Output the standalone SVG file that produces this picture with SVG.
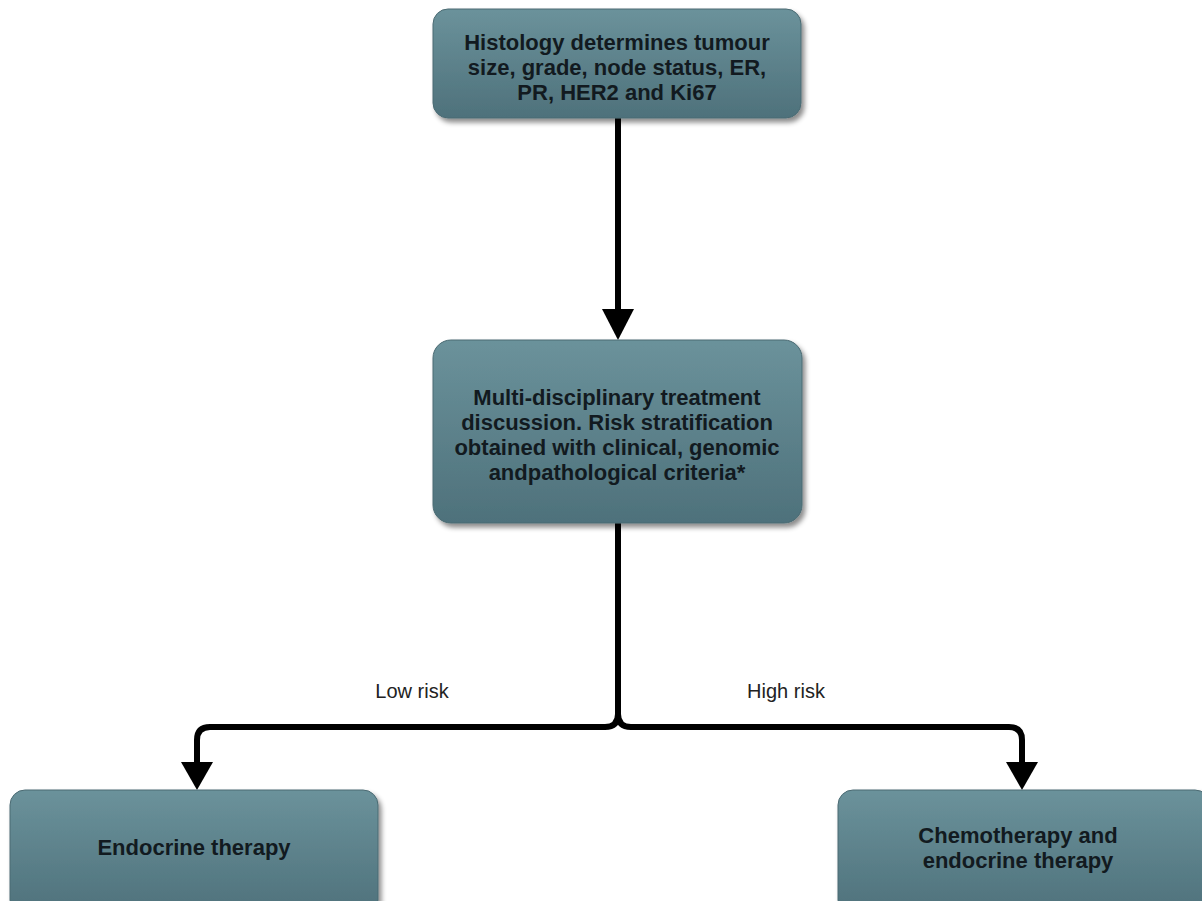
<svg xmlns="http://www.w3.org/2000/svg" width="1202" height="901" viewBox="0 0 1202 901">
  <defs>
    <linearGradient id="fill" x1="0" y1="0" x2="0" y2="1">
      <stop offset="0" stop-color="#6b929b"/>
      <stop offset="1" stop-color="#4e717b"/>
    </linearGradient>
    <filter id="shadow" x="-10%" y="-10%" width="120%" height="130%">
      <feDropShadow dx="3" dy="4" stdDeviation="2.5" flood-color="#000" flood-opacity="0.45"/>
    </filter>
    <style>
      .box { fill: url(#fill); stroke: #4a6a72; stroke-width: 1; filter: url(#shadow); }
      .lbl { font-family: "Liberation Sans", Arial, sans-serif; font-weight: bold; font-size: 22px; fill: #121a20; text-anchor: middle; }
      .edge { fill: none; stroke: #000; stroke-width: 6; }
      .head { fill: #000; }
      .elbl { font-family: "Liberation Sans", Arial, sans-serif; font-size: 20px; fill: #222; text-anchor: middle; }
    </style>
  </defs>

  <g id="connectors">
    <path class="edge" d="M618,118 V311"/>
    <polygon class="head" points="602,309 634,309 618,340"/>
    <path class="edge" d="M618,523 V714 Q618,727 605,727 H210 Q197,727 197,740 V764"/>
    <polygon class="head" points="181,762 213,762 197,790"/>
    <path class="edge" d="M618,714 Q618,727 631,727 H1009 Q1022,727 1022,740 V764"/>
    <polygon class="head" points="1006,762 1038,762 1022,790"/>
    <text class="elbl" x="412" y="698">Low risk</text>
    <text class="elbl" x="786" y="698">High risk</text>
  </g>

  <g id="node-histology">
    <rect class="box" x="433" y="9" width="368" height="109" rx="15" ry="15"/>
    <text class="lbl" x="617" y="50">Histology determines tumour</text>
    <text class="lbl" x="617" y="75">size, grade, node status, ER,</text>
    <text class="lbl" x="617" y="100">PR, HER2 and Ki67</text>
  </g>

  <g id="node-mdt">
    <rect class="box" x="433" y="340" width="369" height="183" rx="18" ry="18"/>
    <text class="lbl" x="617" y="405">Multi-disciplinary treatment</text>
    <text class="lbl" x="617" y="430">discussion. Risk stratification</text>
    <text class="lbl" x="617" y="455">obtained with clinical, genomic</text>
    <text class="lbl" x="617" y="480">andpathological criteria*</text>
  </g>

  <g id="node-endocrine">
    <rect class="box" x="10" y="790" width="368" height="125" rx="15" ry="15"/>
    <text class="lbl" x="194" y="855">Endocrine therapy</text>
  </g>

  <g id="node-chemo">
    <rect class="box" x="838" y="790" width="372" height="125" rx="15" ry="15"/>
    <text class="lbl" x="1018" y="843">Chemotherapy and</text>
    <text class="lbl" x="1018" y="868">endocrine therapy</text>
  </g>
</svg>
